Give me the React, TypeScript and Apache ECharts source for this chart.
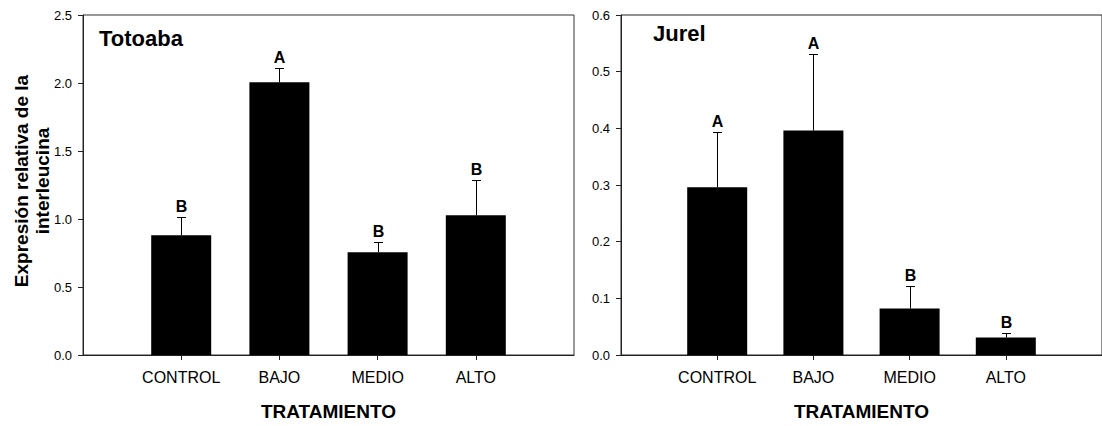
import React, { useEffect, useRef } from "react";
import * as echarts from "echarts";

const categories = ["CONTROL", "BAJO", "MEDIO", "ALTO"];
const catPositions = [1, 2, 3, 4];

const totoabaMeans = [0.88, 2.005, 0.755, 1.028];
const totoabaErrors = [0.138, 0.102, 0.075, 0.262];
const totoabaLetters = ["B", "A", "B", "B"];

const jurelMeans = [0.296, 0.396, 0.082, 0.031];
const jurelErrors = [0.098, 0.136, 0.04, 0.008];
const jurelLetters = ["A", "A", "B", "B"];

const FONT = 'Arial, "Liberation Sans", Helvetica, sans-serif';

function errSeries(idx: number, means: number[], errs: number[], letters: string[]) {
  return {
    type: "custom",
    xAxisIndex: idx,
    yAxisIndex: idx,
    z: 5,
    data: catPositions.map((p, i) => [p, means[i], errs[i]]),
    renderItem: (params: any, api: any) => {
      const x = api.value(0);
      const y = api.value(1);
      const e = api.value(2);
      const base = api.coord([x, y]);
      const top = api.coord([x, y + e]);
      const cx = Math.round(base[0]) + 0.5;
      const ty = Math.round(top[1]) + 0.5;
      return {
        type: "group",
        children: [
          { type: "line", shape: { x1: cx, y1: base[1], x2: cx, y2: ty }, style: { stroke: "#000", lineWidth: 1 } },
          { type: "line", shape: { x1: cx - 4.5, y1: ty, x2: cx + 4.5, y2: ty }, style: { stroke: "#000", lineWidth: 1 } },
          {
            type: "text",
            x: cx,
            y: ty - 3,
            style: {
              text: letters[params.dataIndex],
              fill: "#000",
              fontSize: 16,
              fontWeight: "bold",
              fontFamily: FONT,
              align: "center",
              verticalAlign: "bottom",
            },
          },
        ],
      };
    },
  };
}

function xAxisCfg(idx: number) {
  return {
    type: "value",
    gridIndex: idx,
    min: 0,
    max: 5,
    name: "TRATAMIENTO",
    nameLocation: "middle",
    nameGap: 47,
    nameTextStyle: { fontSize: 19, fontWeight: "bold", color: "#000", fontFamily: FONT },
    axisLine: { show: true, lineStyle: { color: "#222", width: 1 } },
    axisTick: { show: true, customValues: catPositions, length: 5, lineStyle: { color: "#222" } },
    axisLabel: {
      customValues: catPositions,
      margin: 14,
      fontSize: 16,
      color: "#000",
      fontFamily: FONT,
      formatter: (v: number) => categories[catPositions.indexOf(Math.round(v))] ?? "",
    },
    splitLine: { show: false },
  };
}

function yAxisCfg(idx: number, max: number, interval: number) {
  return {
    type: "value",
    gridIndex: idx,
    min: 0,
    max,
    interval,
    axisLine: { show: true, lineStyle: { color: "#222", width: 1 } },
    axisTick: { show: true, length: 5, lineStyle: { color: "#222" } },
    axisLabel: {
      margin: 11,
      fontSize: 13,
      color: "#000",
      fontFamily: FONT,
      formatter: (v: number) => v.toFixed(1),
    },
    splitLine: { show: false },
  };
}

export default function App() {
  const ref = useRef<HTMLDivElement>(null);
  useEffect(() => {
    if (!ref.current) return;
    const chart = echarts.init(ref.current, null, { renderer: "svg" });
    chart.setOption({
      animation: false,
      backgroundColor: "#fff",
      textStyle: { fontFamily: FONT },
      title: [
        { text: "Totoaba", left: 99, top: 27, padding: 0, textStyle: { fontSize: 22, fontWeight: "bold", color: "#000", fontFamily: FONT } },
        { text: "Jurel", left: 653, top: 22, padding: 0, textStyle: { fontSize: 22, fontWeight: "bold", color: "#000", fontFamily: FONT } },
      ],
      grid: [
        { left: 83, top: 15, width: 491, height: 345, show: true, borderColor: "#333", borderWidth: 1, backgroundColor: "transparent" },
        { left: 621, top: 15, width: 491, height: 345, show: true, borderColor: "#222", borderWidth: 1, backgroundColor: "transparent" },
      ],
      xAxis: [xAxisCfg(0), xAxisCfg(1)],
      yAxis: [yAxisCfg(0, 2.5, 0.5), yAxisCfg(1, 0.6, 0.1)],
      graphic: [
        {
          type: "text",
          x: 32,
          y: 181,
          rotation: Math.PI / 2,
          style: {
            text: "Expresión relativa de la\ninterleucina",
            fill: "#000",
            fontSize: 19,
            fontWeight: "bold",
            fontFamily: FONT,
            align: "center",
            verticalAlign: "middle",
            lineHeight: 21,
          },
        },
      ],
      series: [
        {
          type: "bar",
          xAxisIndex: 0,
          yAxisIndex: 0,
          barWidth: 60,
          itemStyle: { color: "#000" },
          data: catPositions.map((p, i) => [p, totoabaMeans[i]]),
        },
        errSeries(0, totoabaMeans, totoabaErrors, totoabaLetters),
        {
          type: "bar",
          xAxisIndex: 1,
          yAxisIndex: 1,
          barWidth: 60,
          itemStyle: { color: "#000" },
          data: catPositions.map((p, i) => [p, jurelMeans[i]]),
        },
        errSeries(1, jurelMeans, jurelErrors, jurelLetters),
      ],
    });
    return () => chart.dispose();
  }, []);
  return (
    <div
      ref={ref}
      style={{ position: "absolute", left: 0, top: 0, width: 1102, height: 426 }}
    />
  );
}
